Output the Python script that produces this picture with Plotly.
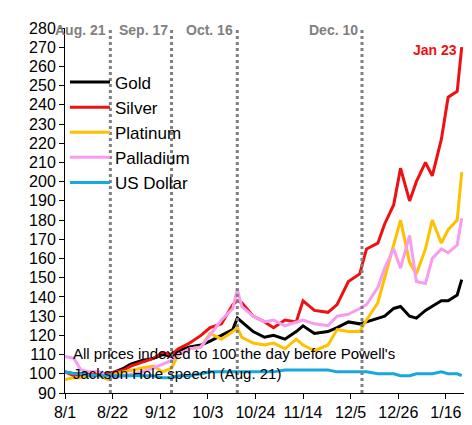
import plotly.graph_objects as go

dates = ["2024-08-01", "2024-08-05", "2024-08-08", "2024-08-12", "2024-08-16", "2024-08-20",
         "2024-08-23", "2024-08-27", "2024-08-30", "2024-09-04", "2024-09-09", "2024-09-13",
         "2024-09-17", "2024-09-20", "2024-09-25", "2024-09-30", "2024-10-04", "2024-10-09",
         "2024-10-14", "2024-10-16", "2024-10-18", "2024-10-23", "2024-10-28", "2024-11-01",
         "2024-11-06", "2024-11-11", "2024-11-14", "2024-11-19", "2024-11-25", "2024-11-29",
         "2024-12-04", "2024-12-09", "2024-12-12", "2024-12-17", "2024-12-20", "2024-12-24",
         "2024-12-27", "2024-12-31", "2025-01-03", "2025-01-07", "2025-01-10", "2025-01-14",
         "2025-01-17", "2025-01-21", "2025-01-23"]

gold = [101, 100, 100, 100, 100, 100, 101, 103, 105, 107, 108, 110, 109, 112, 114, 115, 117, 120,
        123, 129, 127, 122, 119, 120, 118, 122, 125, 121, 122, 124, 127, 126, 127, 129, 130, 134,
        135, 130, 129, 133, 135, 138, 138, 141, 149]
silver = [101, 99, 99, 100, 100, 100, 101, 102, 104, 106, 108, 111, 110, 113, 116, 120, 124, 126,
          136, 138, 137, 130, 127, 124, 128, 127, 138, 133, 132, 136, 148, 152, 165, 168, 178, 188,
          207, 190, 200, 210, 203, 222, 244, 247, 270]
platinum = [97, 98, 98, 99, 99, 97, 100, 101, 102, 103, 104, 101, 103, 110, 113, 114, 121, 118,
            122, 124, 119, 116, 115, 116, 113, 118, 115, 112, 115, 123, 122, 122, 128, 137, 150, 168,
            180, 158, 152, 165, 180, 168, 175, 180, 205]
palladium = [109, 108, 102, 101, 101, 99, 98, 99, 100, 101, 103, 105, 107, 110, 113, 114, 120, 128,
             134, 144, 135, 130, 127, 128, 125, 127, 128, 126, 125, 130, 131, 134, 136, 145, 155, 165,
             155, 172, 148, 147, 160, 165, 163, 167, 181]
usd = [101, 100, 100, 99, 99, 99, 99, 99, 99, 99, 99, 98, 98, 99, 99, 100, 101, 101, 101, 101, 101,
       101, 101, 101, 102, 102, 102, 102, 102, 101, 101, 101, 101, 100, 100, 100, 99, 99, 100, 100,
       100, 101, 100, 100, 99]

events = ["2024-08-21", "2024-09-17", "2024-10-16", "2024-12-10"]
event_labels = ["Aug. 21", "Sep. 17", "Oct. 16", "Dec. 10"]
tick_dates = ["2024-08-01", "2024-08-22", "2024-09-12", "2024-10-03", "2024-10-24",
              "2024-11-14", "2024-12-05", "2024-12-26", "2025-01-16"]
tick_text = ["8/1", "8/22", "9/12", "10/3", "10/24", "11/14", "12/5", "12/26", "1/16"]

series = [("Gold", gold, "#000000"), ("Silver", silver, "#ee1111"),
          ("Platinum", platinum, "#ffc000"), ("Palladium", palladium, "#f79cf0"),
          ("US Dollar", usd, "#1aa7de")]

FONT = "Liberation Sans, Arial"

fig = go.Figure()
for name, vals, col in series:
    fig.add_trace(go.Scatter(x=dates, y=vals, name=name, mode="lines",
                             line=dict(color=col, width=3)))

for d, lab in zip(events, event_labels):
    fig.add_shape(type="line", x0=d, x1=d, y0=0, y1=1, yref="paper",
                  line=dict(color="#808080", width=3, dash="dot"))
    fig.add_annotation(x=d, y=1.0, yref="paper", text=f"<b>{lab}</b>", showarrow=False,
                       xanchor="right", yanchor="middle", xshift=-2, yshift=-2,
                       font=dict(size=14, color="#808080", family=FONT))

fig.add_annotation(x="2025-01-22", y=270, text="<b>Jan 23</b>", showarrow=False,
                   xanchor="right", yanchor="middle", yshift=-3,
                   font=dict(size=14, color="#ee1111", family=FONT))
fig.add_annotation(x=0.015, y=0.08, xref="paper", yref="paper", showarrow=False,
                   text="All prices indexed to 100 the day before Powell's<br>Jackson Hole speech (Aug. 21)",
                   align="left", xanchor="left", yanchor="middle",
                   font=dict(size=15, color="#000000", family=FONT))

fig.update_xaxes(range=["2024-08-01", "2025-01-24"], tickvals=tick_dates, ticktext=tick_text,
                 showline=True, linecolor="#000000", linewidth=1, ticks="outside",
                 tickcolor="#000000", showgrid=False, zeroline=False,
                 tickfont=dict(size=16, color="#000000"))
fig.update_yaxes(range=[90, 280], dtick=10, showline=True, linecolor="#000000", linewidth=1,
                 ticks="outside", tickcolor="#000000", showgrid=False, zeroline=False,
                 tickfont=dict(size=16, color="#000000"))

fig.update_layout(
    width=472, height=425,
    margin=dict(l=57, r=16, t=15, b=38),
    paper_bgcolor="white", plot_bgcolor="white",
    font=dict(family=FONT),
    legend=dict(x=0.0, y=0.90, xanchor="left", yanchor="top", bgcolor="rgba(0,0,0,0)",
                font=dict(size=17, color="#000000"), tracegroupgap=5, itemwidth=40),
    showlegend=True,
)

fig.write_html("out.html")
